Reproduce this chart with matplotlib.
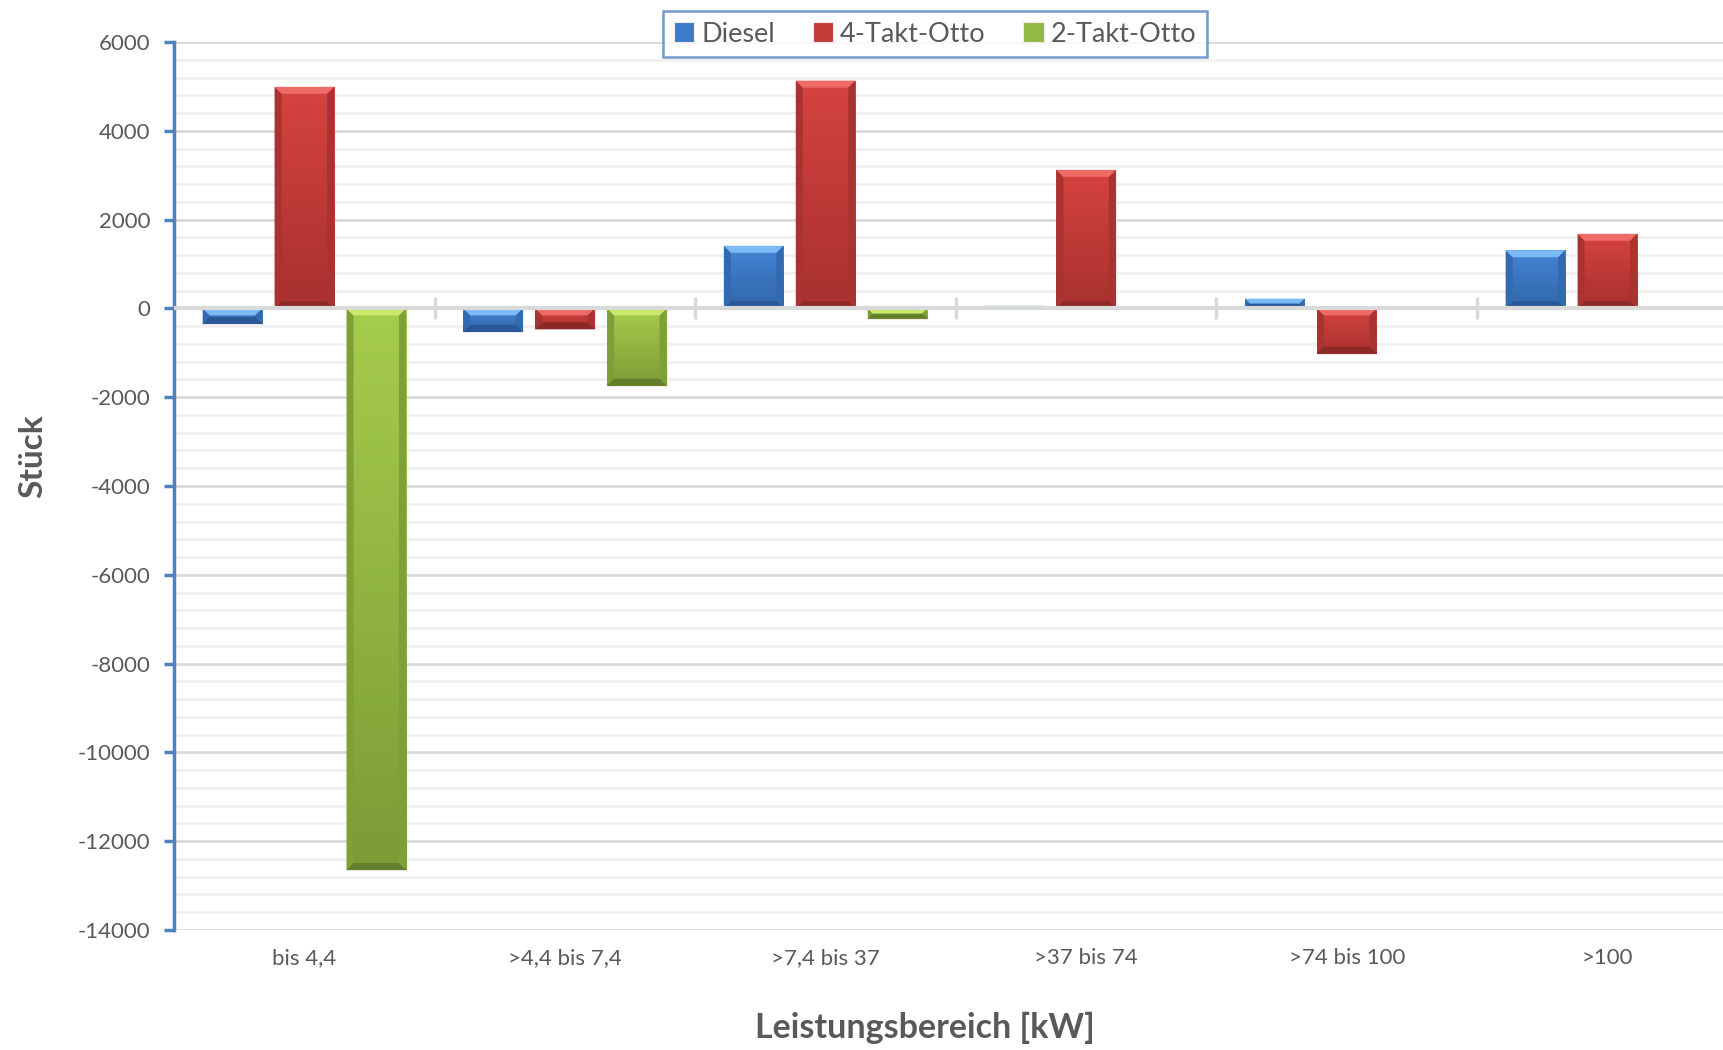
import numpy as np
import matplotlib.pyplot as plt
from matplotlib.patches import Polygon
from matplotlib.colors import LinearSegmentedColormap
from matplotlib.ticker import MultipleLocator

plt.rcParams['font.family'] = ['Lato', 'DejaVu Sans']
plt.rcParams['axes.unicode_minus'] = False

categories = ["bis 4,4", ">4,4 bis 7,4", ">7,4 bis 37", ">37 bis 74", ">74 bis 100", ">100"]
diesel = [-350, -530, 1410, 60, 220, 1310]
takt4 = [4990, -470, 5130, 3120, -1020, 1680]
takt2 = [-12650, -1740, -230, 15, 0, 0]
series_names = ["Diesel", "4-Takt-Otto", "2-Takt-Otto"]

# body, light bevel, dark bevel, side, body top, body bottom
colors = [
    ("#3b7bc9", "#7bbaf5", "#2a5796", "#3269b0", "#4485d4", "#3266aa"),
    ("#c43c3a", "#ee6a66", "#8c2926", "#a83331", "#d5433f", "#a8312f"),
    ("#93b944", "#cbea6c", "#647f2b", "#7f9f39", "#a6cc4c", "#7b9c36"),
]
grey = "#595959"

fig = plt.figure(figsize=(17.24, 10.5), dpi=100)
ax = fig.add_axes([174 / 1724, 1 - 930 / 1050, 1563.6 / 1724, 888 / 1050])

x = np.arange(len(categories))
w = 0.228
step = 0.276
xlim = (-0.5, len(categories) - 0.5)
ylim = (-14000, 6000)
ax.set_xlim(*xlim)
ax.set_ylim(*ylim)

# pixel size of one data unit, for the bevel
p0 = ax.transData.transform((0, 0))
p1 = ax.transData.transform((1, 1))
px_x = p1[0] - p0[0]
px_y = p1[1] - p0[1]
bev = 7.0
grad = np.linspace(0, 1, 64).reshape(-1, 1)


def add_bevel(rect, col):
    x0, y0 = rect.get_x(), rect.get_y()
    bw, bh = rect.get_width(), rect.get_height()
    if bh < 0:
        y0, bh = y0 + bh, -bh
    if bh == 0:
        return
    x1, y1 = x0 + bw, y0 + bh
    cmap = LinearSegmentedColormap.from_list("g", [col[5], col[4]])
    im = ax.imshow(grad, cmap=cmap, extent=(x0, x1, y0, y1), origin="lower",
                   aspect="auto", zorder=2.55, interpolation="bilinear")
    im.set_clip_path(rect)
    b = min(bev, bh * px_y / 2.0)
    dx = b / px_x
    dy = b / px_y
    top = [(x0, y1), (x1, y1), (x1 - dx, y1 - dy), (x0 + dx, y1 - dy)]
    bot = [(x0, y0), (x1, y0), (x1 - dx, y0 + dy), (x0 + dx, y0 + dy)]
    left = [(x0, y0), (x0, y1), (x0 + dx, y1 - dy), (x0 + dx, y0 + dy)]
    right = [(x1, y0), (x1, y1), (x1 - dx, y1 - dy), (x1 - dx, y0 + dy)]
    for pts, c in ((left, col[3]), (right, col[3]), (bot, col[2]), (top, col[1])):
        ax.add_patch(Polygon(pts, closed=True, facecolor=c, edgecolor="none", zorder=2.6))


handles = []
for i, (vals, name) in enumerate(zip([diesel, takt4, takt2], series_names)):
    bars = ax.bar(x + (i - 1) * step, vals, width=w, color=colors[i][0],
                  edgecolor="#f4e8e8", linewidth=0.8, zorder=2.5, label=name)
    for r in bars:
        add_bevel(r, colors[i])
    handles.append(bars)

ax.set_xlim(*xlim)
ax.set_ylim(*ylim)

# grid
ax.yaxis.set_major_locator(MultipleLocator(2000))
ax.yaxis.set_minor_locator(MultipleLocator(400))
ax.grid(axis="y", which="major", color="#d9d9d9", linewidth=2, zorder=0)
ax.grid(axis="y", which="minor", color="#f0f0f0", linewidth=2, zorder=0)
ax.set_axisbelow(True)

# zero line with category separators
ax.axhline(0, color="#d9d9d9", linewidth=3, zorder=3)
for b in np.arange(0.5, len(categories) - 0.5, 1.0):
    ax.plot([b, b], [-250, 250], color="#d9d9d9", linewidth=2.5, zorder=3,
            solid_capstyle="butt")

for s in ["top", "right", "bottom"]:
    ax.spines[s].set_visible(False)
ax.spines["left"].set_color("#4f81bd")
ax.spines["left"].set_linewidth(2.5)

ax.tick_params(axis="y", which="major", colors="#4f81bd", length=7, width=2.5,
               labelcolor=grey, labelsize=16, pad=10)
ax.tick_params(axis="y", which="minor", length=0)
ax.set_xticks(x)
ax.set_xticklabels(categories)
ax.tick_params(axis="x", length=0, labelcolor=grey, labelsize=16, pad=13)

fig.text(33 / 1724, 1 - 456 / 1050, "Stück", rotation=90, fontsize=24,
         fontweight="bold", color=grey, ha="center", va="center")
fig.text(925 / 1724, 1 - 1028 / 1050, "Leistungsbereich [kW]", fontsize=24.5,
         fontweight="bold", color=grey, ha="center", va="center")

leg = fig.legend(handles=handles, labels=series_names, loc="center",
                 bbox_to_anchor=(935 / 1724, 1 - 34 / 1050), ncol=3,
                 fontsize=19.5, frameon=True, fancybox=False, handlelength=0.75,
                 handleheight=0.75, handletextpad=0.25, columnspacing=1.4,
                 borderpad=0.4, borderaxespad=0)
leg.get_frame().set_edgecolor("#4f81bd")
leg.get_frame().set_linewidth(1.8)
for t in leg.get_texts():
    t.set_color(grey)

fig.savefig("out.png", dpi=100)
